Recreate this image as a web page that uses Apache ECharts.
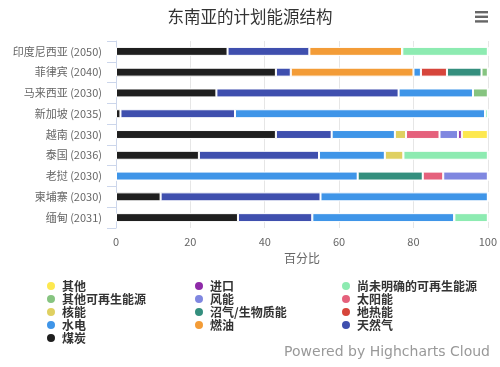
<!DOCTYPE html>
<html><head><meta charset="utf-8">
<script src="https://cdn.jsdelivr.net/npm/echarts@6/dist/echarts.min.js"></script>
<style>html,body{margin:0;padding:0;background:#fff}#c{width:500px;height:367px}</style>
</head><body><div id="c"></div>
<script>
const categories = ['印度尼西亚 (2050)','菲律宾 (2040)','马来西亚 (2030)','新加坡 (2035)','越南 (2030)','泰国 (2036)','老挝 (2030)','柬埔寨 (2030)','缅甸 (2031)'];
// stacking order left -> right
const coal        = [30, 43, 27, 1.2, 43, 22.3, 0, 12, 32.8];
const gas         = [22, 4, 49, 30.8, 15, 32.3, 0, 43, 20];
const oil         = [25, 33, 0, 0, 0, 0, 0, 0, 0];
const hydro       = [0, 2, 20, 67.3, 17, 17.7, 65, 45, 38.2];
const geothermal  = [0, 7, 0, 0, 0, 0, 0, 0, 0];
const biogas      = [0, 9.3, 0, 0, 0, 0, 17.5, 0, 0];
const nuclear     = [0, 0, 0, 0, 3, 5, 0, 0, 0];
const solar       = [0, 0, 0, 0, 9, 0, 5.5, 0, 0];
const wind        = [0, 0, 0, 0, 5, 0, 12, 0, 0];
const otherRenew  = [0, 1.7, 4, 0, 0, 0, 0, 0, 0];
const unspecified = [23, 0, 0, 0.7, 0, 22.7, 0, 0, 9];
const imports     = [0, 0, 0, 0, 1, 0, 0, 0, 0];
const other       = [0, 0, 0, 0, 7, 0, 0, 0, 0];
const xTicks = [0, 20, 40, 60, 80, 100];

const seriesDefs = [
  ['煤炭', coal, '#1f1f1f'],
  ['天然气', gas, '#3f4fae'],
  ['燃油', oil, '#f39c37'],
  ['水电', hydro, '#3f95e8'],
  ['地热能', geothermal, '#d6453b'],
  ['沼气/生物质能', biogas, '#348f7e'],
  ['核能', nuclear, '#dfd061'],
  ['太阳能', solar, '#e5617c'],
  ['风能', wind, '#7f87e0'],
  ['其他可再生能源', otherRenew, '#86c480'],
  ['尚未明确的可再生能源', unspecified, '#8debb1'],
  ['进口', imports, '#8e2aa8'],
  ['其他', other, '#fde84f']
];

const chart = echarts.init(document.getElementById('c'), null, {renderer:'canvas'});
const font = '"Noto Sans CJK SC", "DejaVu Sans", sans-serif';
const legendBase = {
  orient: 'vertical', top: 280, itemGap: 1, itemWidth: 10, itemHeight: 10, icon: 'circle',
  textStyle: {fontSize: 12, lineHeight: 10, fontWeight: 'bold', color: '#333', fontFamily: font, padding: [0,0,0,1]},
  padding: 0
};
chart.setOption({
  animation: false,
  textStyle: {fontFamily: font},
  title: {text: '东南亚的计划能源结构', left: 'center', top: 3,
    textStyle: {fontSize: 16.5, fontWeight: 'normal', color: '#333', fontFamily: font}},
  graphic: [
    {type: 'group', right: 12, top: 11, children: [
      {type: 'rect', shape: {x: 0, y: 0, width: 13, height: 2.4}, style: {fill: '#666'}},
      {type: 'rect', shape: {x: 0, y: 4.6, width: 13, height: 2.4}, style: {fill: '#666'}},
      {type: 'rect', shape: {x: 0, y: 9.2, width: 13, height: 2.4}, style: {fill: '#666'}}
    ]},
    {type: 'text', right: 10, top: 345, style: {text: 'Powered by Highcharts Cloud', fill: '#999', fontSize: 14, fontFamily: '"DejaVu Sans", sans-serif'}}
  ],
  legend: [
    Object.assign({}, legendBase, {left: 45, data: ['其他','其他可再生能源','核能','水电','煤炭']}),
    Object.assign({}, legendBase, {left: 193, data: ['进口','风能','沼气/生物质能','燃油']}),
    Object.assign({}, legendBase, {left: 340, data: ['尚未明确的可再生能源','太阳能','地热能','天然气']})
  ],
  grid: {left: 116, right: 9, top: 41, bottom: 139, containLabel: false},
  xAxis: {
    type: 'value', min: 0, max: 100, interval: 20,
    name: '百分比', nameLocation: 'middle', nameGap: 24,
    nameTextStyle: {color: '#666', fontSize: 12, fontFamily: font},
    axisLine: {show: false}, axisTick: {show: false},
    axisLabel: {color: '#666', fontSize: 11, margin: 8,
      formatter: v => xTicks.includes(v) ? String(v) : ''},
    splitLine: {lineStyle: {color: '#e6e6e6'}}
  },
  yAxis: {
    type: 'category', data: categories, inverse: true,
    axisLine: {lineStyle: {color: '#ccd6eb'}},
    axisTick: {show: true, length: 9, lineStyle: {color: '#ccd6eb'}},
    axisLabel: {color: '#666', fontSize: 11, margin: 14, fontFamily: font}
  },
  series: seriesDefs.map(([name, data, color]) => ({
    name, type: 'bar', stack: 'total', data, barCategoryGap: '57%',
    itemStyle: {color, borderColor: '#fff', borderWidth: 1},
    emphasis: {disabled: true}
  }))
});
</script></body></html>
